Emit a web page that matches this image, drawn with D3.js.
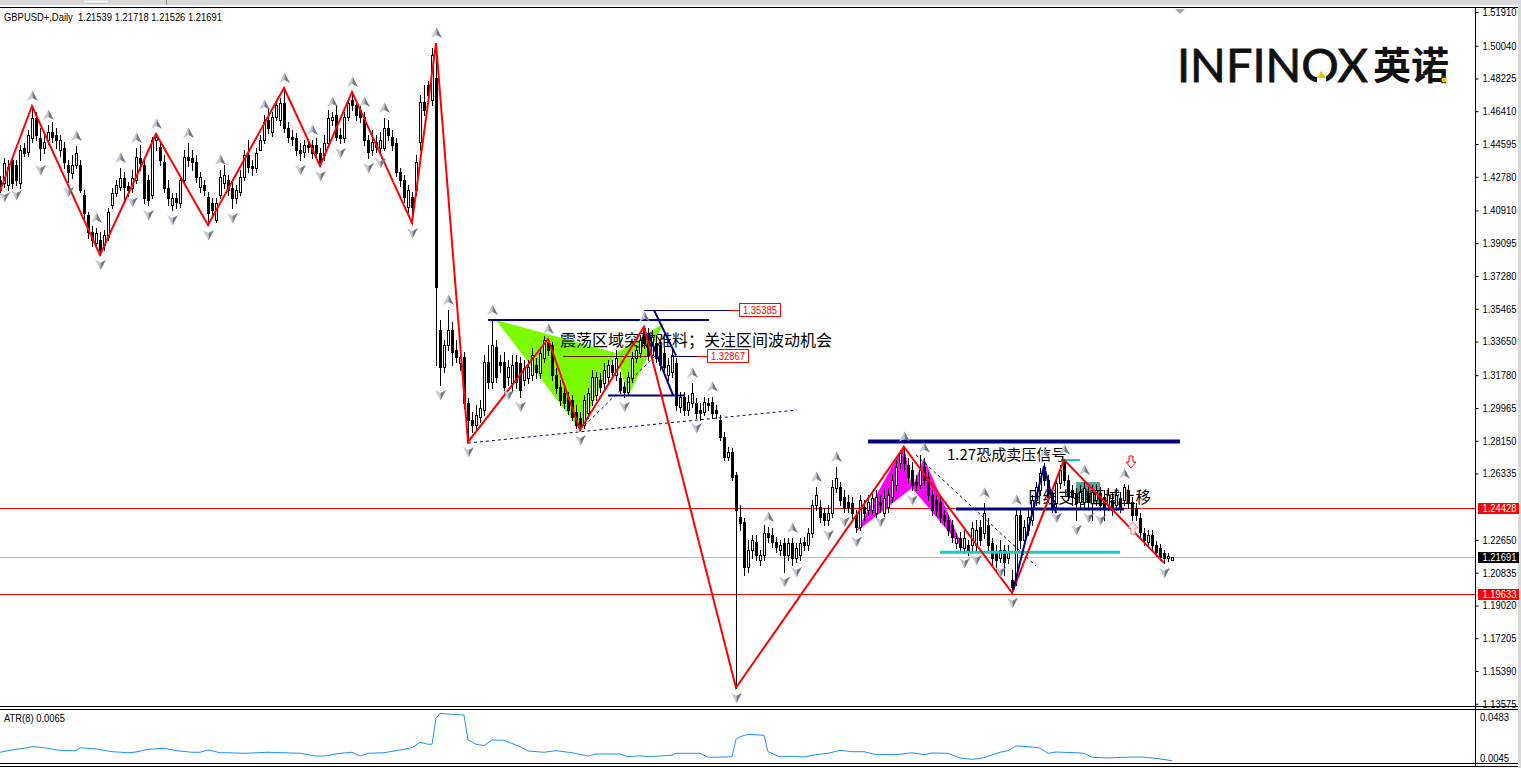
<!DOCTYPE html>
<html><head><meta charset="utf-8">
<script src="https://cdn.jsdelivr.net/npm/d3@7"></script>
<style>html,body{margin:0;padding:0;background:#fff;overflow:hidden}svg{display:block}</style>
</head><body><svg id="c" width="1521" height="768"></svg>
<script>
// ---------------- DATA ----------------
const headerLabel = "GBPUSD+,Daily  1.21539 1.21718 1.21526 1.21691";
const atrLabel = "ATR(8) 0.0065";
const openP = [
1.4260,1.4243,1.4232,1.4371,1.4343,1.4243,1.4437,1.4415,1.4493,1.4604,
1.4493,1.4437,1.4482,1.4526,1.4510,1.4426,1.4437,1.4343,1.4299,1.4343,
1.4343,1.4177,1.4066,1.3972,1.3911,1.3928,1.3900,1.3944,1.4122,1.4188,
1.4221,1.4271,1.4227,1.4216,1.4260,1.4382,1.4343,1.4260,1.4177,1.4482,
1.4443,1.4360,1.4216,1.4122,1.4160,1.4133,1.4260,1.4388,1.4382,1.4360,
1.4221,1.4232,1.4166,1.4133,1.4038,1.4177,1.4243,1.4260,1.4216,1.4160,
1.4194,1.4277,1.4399,1.4338,1.4327,1.4426,1.4482,1.4593,1.4526,1.4609,
1.4593,1.4687,1.4548,1.4498,1.4493,1.4426,1.4415,1.4454,1.4454,1.4454,
1.4410,1.4399,1.4465,1.4593,1.4620,1.4510,1.4493,1.4609,1.4703,1.4676,
1.4648,1.4609,1.4482,1.4426,1.4471,1.4437,1.4437,1.4548,1.4498,1.4465,
1.4304,1.4260,1.4111,1.4166,1.4205,1.4471,1.4692,1.4787,1.4703,1.4826,
1.3429,1.3224,1.3346,1.3429,1.3318,1.3246,1.3279,1.3024,1.2930,1.2902,
1.2947,1.2985,1.3251,1.3141,1.3335,1.3251,1.3251,1.3169,1.3136,1.3251,
1.3246,1.3152,1.3163,1.3180,1.3235,1.3191,1.3274,1.3362,1.3346,1.3180,
1.3113,1.3080,1.3058,1.3041,1.2974,1.2941,1.2902,1.2969,1.3041,1.3069,
1.3152,1.3136,1.3169,1.3235,1.3180,1.3163,1.3113,1.3086,1.3163,1.3274,
1.3302,1.3440,1.3412,1.3290,1.3357,1.3346,1.3302,1.3180,1.3197,1.3246,
1.3002,1.3058,1.2985,1.3024,1.3024,1.2985,1.2974,1.3024,1.3030,1.2985,
1.2930,1.2836,1.2725,1.2753,1.2626,1.2393,1.2365,1.2116,1.2209,1.2254,
1.2154,1.2182,1.2304,1.2293,1.2254,1.2209,1.2249,1.2182,1.2249,1.2165,
1.2182,1.2254,1.2237,1.2304,1.2459,1.2448,1.2415,1.2376,1.2415,1.2554,
1.2559,1.2504,1.2476,1.2471,1.2404,1.2338,1.2448,1.2431,1.2431,1.2415,
1.2476,1.2415,1.2448,1.2504,1.2570,1.2692,1.2725,1.2681,1.2654,1.2587,
1.2570,1.2670,1.2615,1.2515,1.2487,1.2476,1.2404,1.2376,1.2348,1.2249,
1.2276,1.2220,1.2237,1.2237,1.2237,1.2337,1.2304,1.2348,1.2249,1.2193,
1.2165,1.2209,1.2165,1.2043,1.2043,1.2404,1.2265,1.2321,1.2376,1.2487,
1.2542,1.2670,1.2597,1.2520,1.2471,1.2581,1.2698,1.2597,1.2542,1.2526,
1.2476,1.2476,1.2526,1.2471,1.2487,1.2526,1.2504,1.2459,1.2487,1.2459,
1.2498,1.2487,1.2542,1.2476,1.2443,1.2387,1.2304,1.2254,1.2293,1.2237,
1.2220,1.2193,1.2165,1.21539];
const highP = [
1.4282,1.4382,1.4371,1.4393,1.4371,1.4454,1.4465,1.4537,1.4670,1.4637,
1.4548,1.4510,1.4565,1.4582,1.4548,1.4510,1.4471,1.4371,1.4399,1.4449,
1.4371,1.4205,1.4083,1.4005,1.3994,1.3972,1.3983,1.4105,1.4216,1.4260,
1.4327,1.4304,1.4249,1.4315,1.4437,1.4454,1.4371,1.4288,1.4498,1.4515,
1.4465,1.4399,1.4260,1.4188,1.4188,1.4282,1.4426,1.4465,1.4426,1.4399,
1.4304,1.4260,1.4194,1.4160,1.4160,1.4315,1.4343,1.4288,1.4260,1.4232,
1.4315,1.4426,1.4482,1.4371,1.4437,1.4510,1.4620,1.4659,1.4637,1.4703,
1.4714,1.4770,1.4582,1.4537,1.4521,1.4465,1.4482,1.4482,1.4482,1.4493,
1.4437,1.4510,1.4648,1.4637,1.4676,1.4548,1.4637,1.4714,1.4748,1.4703,
1.4676,1.4637,1.4510,1.4537,1.4510,1.4526,1.4604,1.4593,1.4537,1.4493,
1.4327,1.4288,1.4232,1.4194,1.4399,1.4731,1.4787,1.4809,1.4992,1.5019,
1.3484,1.3374,1.3540,1.3473,1.3373,1.3318,1.3307,1.3052,1.2974,1.3013,
1.3041,1.3290,1.3346,1.3484,1.3374,1.3290,1.3307,1.3262,1.3290,1.3290,
1.3279,1.3262,1.3262,1.3329,1.3274,1.3335,1.3396,1.3379,1.3362,1.3218,
1.3152,1.3113,1.3086,1.3069,1.3013,1.2974,1.3069,1.3108,1.3207,1.3197,
1.3191,1.3246,1.3262,1.3262,1.3318,1.3197,1.3141,1.3197,1.3307,1.3346,
1.3401,1.3446,1.3440,1.3429,1.3401,1.3374,1.3329,1.3274,1.3329,1.3274,
1.3086,1.3086,1.3069,1.3136,1.3052,1.3024,1.3058,1.3052,1.3058,1.3013,
1.2958,1.2863,1.2781,1.2775,1.2643,1.2460,1.2387,1.2265,1.2292,1.2292,
1.2209,1.2348,1.2337,1.2332,1.2282,1.2265,1.2276,1.2276,1.2276,1.2249,
1.2276,1.2282,1.2332,1.2487,1.2559,1.2487,1.2443,1.2459,1.2597,1.2670,
1.2587,1.2542,1.2515,1.2504,1.2431,1.2515,1.2487,1.2515,1.2531,1.2542,
1.2515,1.2542,1.2554,1.2631,1.2708,1.2764,1.2781,1.2720,1.2698,1.2626,
1.2736,1.2720,1.2643,1.2542,1.2515,1.2504,1.2431,1.2404,1.2376,1.2304,
1.2310,1.2321,1.2265,1.2365,1.2376,1.2376,1.2471,1.2387,1.2276,1.2237,
1.2265,1.2237,1.2237,1.2099,1.2431,1.2431,1.2376,1.2431,1.2515,1.2587,
1.2665,1.2692,1.2626,1.2554,1.2609,1.2681,1.2709,1.2626,1.2570,1.2554,
1.2570,1.2597,1.2559,1.2570,1.2576,1.2559,1.2542,1.2554,1.2526,1.2554,
1.2531,1.2576,1.2570,1.2504,1.2471,1.2415,1.2332,1.2321,1.2321,1.2260,
1.2243,1.2209,1.2193,1.21718];
const lowP = [
1.4183,1.4221,1.4205,1.4216,1.4232,1.4216,1.4393,1.4393,1.4471,1.4482,
1.4371,1.4410,1.4460,1.4471,1.4437,1.4393,1.4327,1.4249,1.4271,1.4327,
1.4194,1.4050,1.3939,1.3895,1.3884,1.3845,1.3872,1.3928,1.4105,1.4172,
1.4205,1.4149,1.4172,1.4194,1.4243,1.4315,1.4133,1.4122,1.4160,1.4426,
1.4343,1.4194,1.4122,1.4094,1.4105,1.4111,1.4243,1.4338,1.4315,1.4249,
1.4194,1.4177,1.4011,1.4066,1.4027,1.4160,1.4216,1.4177,1.4105,1.4133,
1.4177,1.4260,1.4304,1.4288,1.4304,1.4426,1.4465,1.4521,1.4504,1.4593,
1.4565,1.4526,1.4471,1.4454,1.4399,1.4371,1.4388,1.4415,1.4382,1.4382,
1.4338,1.4371,1.4449,1.4565,1.4482,1.4465,1.4471,1.4593,1.4648,1.4593,
1.4582,1.4454,1.4382,1.4399,1.4415,1.4410,1.4426,1.4482,1.4426,1.4282,
1.4227,1.4138,1.4083,1.4022,1.4177,1.4426,1.4620,1.4703,1.4676,1.3235,
1.3124,1.3197,1.3318,1.3235,1.3251,1.3207,1.2997,1.2808,1.2863,1.2874,
1.2919,1.2958,1.3108,1.3108,1.3141,1.3197,1.3069,1.3124,1.3096,1.3108,
1.3058,1.3124,1.3136,1.3152,1.3163,1.3163,1.3251,1.3290,1.3152,1.3080,
1.3013,1.2997,1.2963,1.2930,1.2886,1.2874,1.2886,1.2941,1.3013,1.3041,
1.3086,1.3108,1.3141,1.3169,1.3152,1.3080,1.3058,1.3069,1.3141,1.3251,
1.3279,1.3329,1.3262,1.3262,1.3251,1.3207,1.3191,1.3152,1.3169,1.2985,
1.2974,1.2958,1.2958,1.3002,1.2941,1.2930,1.2958,1.2985,1.2941,1.2941,
1.2819,1.2708,1.2708,1.2597,1.1446,1.2320,1.2072,1.2089,1.2165,1.2154,
1.2126,1.2154,1.2254,1.2226,1.2198,1.2182,1.2089,1.2154,1.2126,1.2143,
1.2154,1.2209,1.2209,1.2282,1.2431,1.2365,1.2348,1.2348,1.2393,1.2531,
1.2459,1.2421,1.2421,1.2387,1.2310,1.2320,1.2376,1.2404,1.2409,1.2387,
1.2421,1.2398,1.2421,1.2476,1.2542,1.2665,1.2654,1.2587,1.2542,1.2542,
1.2554,1.2570,1.2487,1.2404,1.2404,1.2365,1.2348,1.2293,1.2254,1.2220,
1.2198,1.2193,1.2182,1.2209,1.2209,1.2237,1.2276,1.2209,1.2126,1.2099,
1.2143,1.2072,1.2138,1.1972,1.2016,1.2220,1.2237,1.2293,1.2348,1.2459,
1.2515,1.2570,1.2476,1.2421,1.2443,1.2554,1.2570,1.2487,1.2459,1.2376,
1.2448,1.2448,1.2443,1.2376,1.2459,1.2431,1.2376,1.2431,1.2404,1.2431,
1.2421,1.2459,1.2443,1.2376,1.2376,1.2282,1.2237,1.2232,1.2215,1.2176,
1.2154,1.2138,1.2149,1.21526];
const closeP = [
1.4205,1.4354,1.4332,1.4243,1.4260,1.4426,1.4410,1.4510,1.4604,1.4510,
1.4437,1.4471,1.4526,1.4498,1.4482,1.4482,1.4360,1.4304,1.4343,1.4410,
1.4205,1.4077,1.3972,1.3928,1.3966,1.3872,1.3955,1.4083,1.4188,1.4232,
1.4271,1.4221,1.4205,1.4271,1.4388,1.4354,1.4160,1.4149,1.4482,1.4498,
1.4371,1.4216,1.4160,1.4160,1.4138,1.4260,1.4388,1.4371,1.4360,1.4277,
1.4277,1.4205,1.4077,1.4094,1.4133,1.4277,1.4288,1.4205,1.4160,1.4205,
1.4277,1.4399,1.4332,1.4327,1.4410,1.4482,1.4582,1.4548,1.4609,1.4676,
1.4687,1.4548,1.4498,1.4487,1.4426,1.4410,1.4454,1.4443,1.4410,1.4410,
1.4360,1.4465,1.4604,1.4609,1.4498,1.4493,1.4609,1.4687,1.4676,1.4620,
1.4609,1.4482,1.4415,1.4471,1.4443,1.4482,1.4548,1.4510,1.4454,1.4304,
1.4260,1.4166,1.4205,1.4111,1.4360,1.4692,1.4648,1.4731,1.4953,1.3667,
1.3224,1.3346,1.3429,1.3307,1.3279,1.3279,1.3024,1.2930,1.2902,1.2958,
1.2997,1.3251,1.3141,1.3346,1.3169,1.3235,1.3113,1.3224,1.3235,1.3141,
1.3096,1.3218,1.3224,1.3290,1.3197,1.3302,1.3373,1.3318,1.3180,1.3108,
1.3041,1.3024,1.2985,1.2947,1.2902,1.2891,1.3041,1.3080,1.3169,1.3169,
1.3113,1.3207,1.3235,1.3197,1.3274,1.3096,1.3086,1.3169,1.3274,1.3318,
1.3373,1.3357,1.3290,1.3390,1.3274,1.3235,1.3224,1.3235,1.3290,1.3013,
1.3058,1.2985,1.3030,1.3080,1.2969,1.2969,1.3030,1.3013,1.2969,1.2969,
1.2836,1.2725,1.2753,1.2615,1.2431,1.2360,1.2116,1.2209,1.2265,1.2182,
1.2182,1.2304,1.2282,1.2254,1.2226,1.2237,1.2182,1.2249,1.2165,1.2220,
1.2249,1.2237,1.2304,1.2459,1.2515,1.2393,1.2376,1.2415,1.2559,1.2609,
1.2487,1.2448,1.2448,1.2415,1.2338,1.2487,1.2415,1.2476,1.2498,1.2504,
1.2459,1.2498,1.2515,1.2597,1.2670,1.2748,1.2692,1.2615,1.2570,1.2570,
1.2654,1.2597,1.2515,1.2431,1.2431,1.2393,1.2376,1.2321,1.2282,1.2276,
1.2226,1.2276,1.2209,1.2332,1.2321,1.2265,1.2415,1.2237,1.2165,1.2154,
1.2209,1.2143,1.2193,1.2004,1.2404,1.2265,1.2337,1.2393,1.2487,1.2559,
1.2637,1.2597,1.2504,1.2448,1.2581,1.2654,1.2597,1.2515,1.2504,1.2471,
1.2531,1.2554,1.2476,1.2531,1.2542,1.2459,1.2448,1.2515,1.2431,1.2515,
1.2448,1.2559,1.2471,1.2404,1.2404,1.2310,1.2265,1.2293,1.2237,1.2198,
1.2171,1.2165,1.2176,1.21691];

const priceTicks = [1.51910,1.50040,1.48225,1.46410,1.44595,1.42780,1.40910,1.39095,1.37280,1.35465,
  1.33650,1.31780,1.29965,1.28150,1.26335,1.22650,1.20835,1.19020,1.17205,1.15390,1.13575];
const levelLines = [1.24428, 1.19633];
const bidPrice = 1.21691;

const zzBars   = [0,8,25,39,52,71,80,88,103,109,117,137,145,161,184,226,253,266,291];
const zzPrices = [1.4199,1.4670,1.3845,1.4515,1.4011,1.4770,1.4338,1.4748,1.4022,1.5019,1.2808,1.3379,1.2874,1.3446,1.1446,1.2781,1.1972,1.2709,1.2138];
const blueZzBars = [253.3,261,264];
const blueZzPrices = [1.1988,1.2675,1.2413];

const upFractals = [8,12,19,24,30,34,39,47,55,66,71,78,83,88,91,96,109,112,123,137,161,173,178,192,198,204,209,226,231,246,254,261,266,271,281];
const downFractals = [1,4,10,17,25,33,37,43,52,58,75,80,85,92,95,103,110,117,127,130,145,156,174,184,196,199,207,211,214,220,228,241,244,250,253,264,269,272,275,291];

const atrBars = [0,3,6,8,10,12,14,17,19,20,24,28,32,34,37,41,44,48,50,52,55,57,61,67,71,75,79,81,85,88,90,92,96,99,103,105,107,108,109,110,115,116,117,119,121,123,126,130,132,136,139,143,147,149,155,157,160,162,168,169,175,177,182,183,184,185,187,191,192,195,198,201,204,207,210,213,216,219,225,228,231,233,237,240,243,246,250,252,254,257,260,262,264,269,271,273,277,281,285,289,293];
const atrValues = [0.0139,0.0159,0.0174,0.0188,0.0183,0.0174,0.0159,0.0153,0.0153,0.0179,0.0168,0.0144,0.0135,0.0141,0.0165,0.0174,0.0153,0.0139,0.0139,0.0159,0.0135,0.0135,0.0130,0.0139,0.0135,0.0130,0.0106,0.0106,0.0130,0.0139,0.0106,0.0130,0.0135,0.0153,0.0179,0.0226,0.0209,0.0209,0.0437,0.0480,0.0466,0.0466,0.0247,0.0209,0.0197,0.0247,0.0244,0.0188,0.0150,0.0139,0.0153,0.0135,0.0106,0.0124,0.0124,0.0100,0.0109,0.0100,0.0113,0.0130,0.0130,0.0095,0.0098,0.0100,0.0253,0.0275,0.0296,0.0288,0.0144,0.0098,0.0104,0.0098,0.0118,0.0130,0.0156,0.0144,0.0144,0.0118,0.0121,0.0135,0.0118,0.0133,0.0130,0.0089,0.0077,0.0091,0.0139,0.0153,0.0194,0.0188,0.0176,0.0130,0.0141,0.0135,0.0130,0.0095,0.0089,0.0095,0.0098,0.0086,0.0065];
const atrTicks = [0.0483, 0.0045];

// pattern objects (bar index, price)
const greenTri1 = [[124,1.3484],[145,1.2874],[154,1.3301]];
const greenTri2 = [[154,1.3301],[166,1.3468],[157,1.3058]];
const magentaTri1 = [[214,1.2310],[226,1.2792],[228,1.2553]];
const magentaTri2 = [[228,1.2553],[231,1.2719],[241,1.2209]];
const navyHLines = [ // [bar1, bar2, price, width]
  [122,177.25,1.3484,2],[152,171,1.3065,2],[217,295,1.2810,4],[239,281,1.2437,3]];
const cyanHLines = [[235,280,1.2197,3],[266,270,1.2708,2]];
const navyDiag = [[[163.5,1.35385],[169,1.32867]],[[162,1.3412],[168.25,1.3068]]];
const dashedLines = [[[117,1.2802],[199.25,1.2985]],[[145,1.2874],[164,1.3290]],[[229,1.2736],[259,1.2121]]];
const priceLabels = [ // price, line start bar, navy end bar, red end bar
  [1.35385,161,182.5,184.75],[1.32867,168,174.25,176.75]];
const maroonLine = [140.75,162.5,1.32867];
const tealBox = [269,275,1.2586,1.2470];
const notes = [
  {text:"震荡区域突破难料；关注区间波动机会", bar:140, price:1.3340, size:16},
  {text:"1.27恐成卖压信号", bar:236.75, price:1.2708, size:15},
  {text:"日线支撑区域上移", bar:256.75, price:1.2470, size:15.5}];
const hollowArrows = [{bar:282.75, price:1.2697, dir:"down", color:"#ff0000"},{bar:283.25, price:1.2331, dir:"up", color:"#ff8080"}];

// ---------------- DRAW ----------------
const svg = d3.select("#c");
const FONT = "'Liberation Sans', Arial, sans-serif";
const plotR = 1475;
const x = d3.scaleLinear().domain([0, 293]).range([0, 1172]);
const y = d3.scaleLinear().domain([1.13575, 1.51910]).range([703.7, 12]);
const ya = d3.scaleLinear().domain([0.0045, 0.0483]).range([763, 713]);
const X = v => Math.round(x(v));
const Y = v => Math.round(y(v));

svg.append("rect").attr("width",1521).attr("height",768).attr("fill","#fff");
// top strip
svg.append("rect").attr("x",0).attr("y",0).attr("width",1521).attr("height",5).attr("fill","#d8d8d8");
svg.append("rect").attr("x",83).attr("y",0).attr("width",26).attr("height",3).attr("fill","#f4f4f4").attr("stroke","#b0b0b0").attr("stroke-width",0.5);
svg.append("line").attr("x1",166.5).attr("x2",166.5).attr("y1",0).attr("y2",5).attr("stroke","#909090");
svg.append("rect").attr("x",1518).attr("y",0).attr("width",3).attr("height",768).attr("fill","#d8d8d8");

const defs = svg.append("defs");
defs.append("clipPath").attr("id","mainclip").append("rect").attr("x",0).attr("y",9).attr("width",plotR).attr("height",697);
defs.append("clipPath").attr("id","atrclip").append("rect").attr("x",0).attr("y",710).attr("width",plotR).attr("height",53);
const main = svg.append("g").attr("clip-path","url(#mainclip)");

// level lines
main.selectAll("line.lvl").data(levelLines).join("line").attr("class","lvl")
  .attr("x1",0).attr("x2",plotR).attr("y1",d=>Y(d)+0.5).attr("y2",d=>Y(d)+0.5)
  .attr("stroke","#ff0000").attr("stroke-width",1);
main.append("line").attr("x1",0).attr("x2",plotR).attr("y1",Y(bidPrice)+0.5).attr("y2",Y(bidPrice)+0.5)
  .attr("stroke","#c0c0c0").attr("stroke-width",1);

// filled pattern triangles
const poly = pts => pts.map(p=>[x(p[0]),y(p[1])].join(",")).join(" ");
main.selectAll("polygon.g").data([greenTri1,greenTri2]).join("polygon").attr("points",poly).attr("fill","#7cfc00");
main.selectAll("polygon.m").data([magentaTri1,magentaTri2]).join("polygon").attr("points",poly).attr("fill","#ff00ff");
// teal box
main.append("rect").attr("x",x(tealBox[0])).attr("y",y(tealBox[2])).attr("width",x(tealBox[1])-x(tealBox[0]))
  .attr("height",y(tealBox[3])-y(tealBox[2])).attr("fill","#5f9ea0");

// notes (behind candles)
main.selectAll("text.note").data(notes).join("text").attr("class","note")
  .attr("x",d=>x(d.bar)).attr("y",d=>y(d.price)).attr("font-size",d=>d.size)
  .attr("font-family","'Noto Sans CJK SC', sans-serif").attr("fill","#000").text(d=>d.text);

// candles
const bars = openP.map((o,i)=>({i,o,h:highP[i],l:lowP[i],c:closeP[i]}));
const gC = main.append("g");
bars.forEach(b=>{
  const cx = X(b.i);
  const yo = y(b.o), yc = y(b.c);
  const top = Math.round(Math.min(yo,yc)), bot = Math.round(Math.max(yo,yc));
  const yh = Math.round(y(b.h)), yl = Math.round(y(b.l));
  if (b.c < b.o) {
    gC.append("line").attr("x1",cx+0.5).attr("x2",cx+0.5).attr("y1",yh).attr("y2",yl+1).attr("stroke","#000");
    gC.append("rect").attr("x",cx-1).attr("y",top).attr("width",3).attr("height",Math.max(1,bot-top+1)).attr("fill","#000");
  } else {
    gC.append("line").attr("x1",cx+0.5).attr("x2",cx+0.5).attr("y1",yh).attr("y2",top).attr("stroke","#000");
    gC.append("line").attr("x1",cx+0.5).attr("x2",cx+0.5).attr("y1",bot+1).attr("y2",yl+1).attr("stroke","#000");
    if (bot-top >= 2) {
      gC.append("rect").attr("x",cx-0.5).attr("y",top+0.5).attr("width",2).attr("height",bot-top)
        .attr("fill","#fff").attr("stroke","#000").attr("stroke-width",1);
    } else {
      gC.append("line").attr("x1",cx-1).attr("x2",cx+2).attr("y1",top+0.5).attr("y2",top+0.5).attr("stroke","#000");
    }
  }
});

// horizontal object lines
main.selectAll("line.nh").data(navyHLines).join("line")
  .attr("x1",d=>x(d[0])).attr("x2",d=>x(d[1])).attr("y1",d=>y(d[2])).attr("y2",d=>y(d[2]))
  .attr("stroke","#000080").attr("stroke-width",d=>d[3]);
main.selectAll("line.ch").data(cyanHLines).join("line")
  .attr("x1",d=>x(d[0])).attr("x2",d=>x(d[1])).attr("y1",d=>y(d[2])).attr("y2",d=>y(d[2]))
  .attr("stroke","#20c8c8").attr("stroke-width",d=>d[3]);
main.append("line").attr("x1",x(maroonLine[0])).attr("x2",x(maroonLine[1]))
  .attr("y1",Y(maroonLine[2])+0.5).attr("y2",Y(maroonLine[2])+0.5).attr("stroke","#6b1a1a").attr("stroke-width",1);

// dashed trend lines
const line2 = d3.line().x(d=>x(d[0])).y(d=>y(d[1]));
main.selectAll("path.dash").data(dashedLines).join("path").attr("d",line2)
  .attr("fill","none").attr("stroke","#000080").attr("stroke-width",1).attr("stroke-dasharray","3,3");
main.selectAll("path.nd").data(navyDiag).join("path").attr("d",line2)
  .attr("fill","none").attr("stroke","#000080").attr("stroke-width",2);

// price labels with connectors
priceLabels.forEach(d=>{
  const yy = Y(d[0])+0.5;
  main.append("line").attr("x1",x(d[1])).attr("x2",x(d[2])).attr("y1",yy).attr("y2",yy).attr("stroke","#000080");
  main.append("line").attr("x1",x(d[2])).attr("x2",x(d[3])).attr("y1",yy).attr("y2",yy).attr("stroke","#ff0000");
  main.append("rect").attr("x",x(d[3])+0.5).attr("y",yy-7).attr("width",41).attr("height",13)
    .attr("fill","#fff").attr("stroke","#ff0000");
  main.append("text").attr("x",x(d[3])+4).attr("y",yy+3.5)
    .attr("font-family",FONT).attr("font-size",10.5).attr("fill","#ff0000")
    .attr("textLength",34).attr("lengthAdjust","spacingAndGlyphs").text(d3.format(".5f")(d[0]));
});

// red zigzag
main.append("path").datum(zzBars.map((b,i)=>[b,zzPrices[i]])).attr("d",line2)
  .attr("fill","none").attr("stroke","#ff0000").attr("stroke-width",2).attr("stroke-linejoin","miter");
// navy zigzag
main.append("path").datum(blueZzBars.map((b,i)=>[b,blueZzPrices[i]])).attr("d",line2)
  .attr("fill","none").attr("stroke","#000080").attr("stroke-width",2);

// hollow arrows
hollowArrows.forEach(a=>{
  const pts = a.dir==="down" ? "M-2,-6L2,-6L2,0L5,0L0,6L-5,0L-2,0Z" : "M-2,6L2,6L2,0L5,0L0,-6L-5,0L-2,0Z";
  main.append("path").attr("transform",`translate(${x(a.bar)},${y(a.price)})`).attr("d",pts)
    .attr("fill","#fff").attr("stroke",a.color).attr("stroke-width",1);
});

// fractal arrows
const upG = main.selectAll("g.up").data(upFractals).join("g").attr("class","up")
  .attr("transform",i=>`translate(${X(i)+0.5},${y(highP[i])-10})`);
upG.append("path").attr("d","M0,-5.5L-5.5,5L0,2Z").attr("fill","#c4c8d2");
upG.append("path").attr("d","M0,-5.5L5.5,5L0,2Z").attr("fill","#737886");
const dnG = main.selectAll("g.dn").data(downFractals).join("g").attr("class","dn")
  .attr("transform",i=>`translate(${X(i)+0.5},${y(lowP[i])+10})`);
dnG.append("path").attr("d","M0,5.5L-5.5,-5L0,-2Z").attr("fill","#c4c8d2");
dnG.append("path").attr("d","M0,5.5L5.5,-5L0,-2Z").attr("fill","#737886");

// shift marker at top
svg.append("path").attr("d","M1175,9L1185,9L1180,14Z").attr("fill","#a8a8a8");

// frame lines
svg.append("line").attr("x1",0).attr("x2",1518).attr("y1",7.5).attr("y2",7.5).attr("stroke","#000");
[706.5,709.5,763.5,766.5].forEach(v=>svg.append("line").attr("x1",0).attr("x2",1518).attr("y1",v).attr("y2",v).attr("stroke","#000"));
svg.append("line").attr("x1",plotR+0.5).attr("x2",plotR+0.5).attr("y1",7.5).attr("y2",766.5).attr("stroke","#000");

// right price axis
const axis = d3.axisRight(y).tickValues(priceTicks).tickFormat(d3.format(".5f")).tickSize(3).tickSizeOuter(0).tickPadding(4);
const ag = svg.append("g").attr("transform",`translate(${plotR+0.5},0)`).call(axis);
ag.select(".domain").remove();
ag.selectAll("text").attr("font-family",FONT).attr("font-size",10.5).attr("fill","#000")
  .attr("textLength",34).attr("lengthAdjust","spacingAndGlyphs");
ag.selectAll("line").attr("stroke","#000");

// level boxes on axis
const boxes = [[levelLines[0],"#ff0000"],[levelLines[1],"#ff0000"],[bidPrice,"#000000"]];
boxes.forEach(b=>{
  const yy = y(b[0]);
  svg.append("rect").attr("x",1478).attr("y",Math.round(yy)-5).attr("width",41).attr("height",11).attr("fill",b[1]);
  svg.append("text").attr("x",1482.5).attr("y",Math.round(yy)+4).attr("font-family",FONT).attr("font-size",10.5)
    .attr("fill","#fff").attr("textLength",34).attr("lengthAdjust","spacingAndGlyphs").text(d3.format(".5f")(b[0]));
});

// ATR panel
svg.append("g").attr("clip-path","url(#atrclip)").append("path")
  .datum(atrBars.map((b,i)=>[b,atrValues[i]]))
  .attr("d",d3.line().x(d=>x(d[0])).y(d=>ya(d[1])))
  .attr("fill","none").attr("stroke","#1e90ff").attr("stroke-width",1);
svg.selectAll("text.atrt").data(atrTicks).join("text").attr("class","atrt")
  .attr("x",1480).attr("y",(d,i)=>i===0?720.5:761.5).attr("font-family",FONT).attr("font-size",10.5).attr("fill","#000")
  .attr("textLength",29).attr("lengthAdjust","spacingAndGlyphs").text(d=>d3.format(".4f")(d));
svg.append("text").attr("x",4).attr("y",722).attr("font-family",FONT).attr("font-size",10.5).attr("fill","#000")
  .attr("textLength",61).attr("lengthAdjust","spacingAndGlyphs").text(atrLabel);

// header
svg.append("text").attr("x",4).attr("y",21).attr("font-family",FONT).attr("font-size",10.5).attr("fill","#000")
  .attr("xml:space","preserve").style("white-space","pre")
  .attr("textLength",218).attr("lengthAdjust","spacingAndGlyphs").text(headerLabel);

// logo
const logo = svg.append("g");
logo.append("text").attr("x",1177).attr("y",82).attr("font-family","Lato, 'Open Sans', sans-serif").attr("font-size",47)
  .attr("font-weight",400).attr("fill","#111").attr("stroke","#111").attr("stroke-width",0.8)
  .attr("textLength",191).attr("lengthAdjust","spacingAndGlyphs").text("INFINOX");
logo.append("rect").attr("x",1317).attr("y",74).attr("width",9).attr("height",10).attr("fill","#fff");
logo.append("path").attr("d","M1321.5,70.5L1326,78L1317,78Z").attr("fill","#f5c400");
logo.append("text").attr("x",1373).attr("y",79).attr("font-family","'Noto Sans CJK SC', sans-serif").attr("font-size",38)
  .attr("font-weight",700).attr("fill","#111").text("英诺");
logo.append("circle").attr("cx",1444).attr("cy",80).attr("r",2.5).attr("fill","#f5c400");
</script></body></html>
